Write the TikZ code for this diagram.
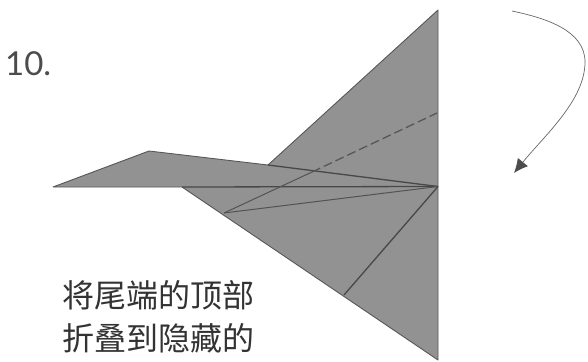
\documentclass[tikz,border=0pt]{standalone}
\usepackage{fontspec}
\newfontfamily\cjk{Noto Sans CJK SC}
\setmainfont{Lato}
\usetikzlibrary{arrows.meta}
\definecolor{paper}{RGB}{146,146,146}
\definecolor{crease}{RGB}{72,72,72}
\tikzset{
  planeface/.style={fill=paper,draw=crease!80!paper,line width=0.9pt,line join=round},
  foldline/.style={draw=crease,line width=1.3pt},
  thinfold/.style={draw=crease!85!paper,line width=1pt},
  hiddenline/.style={draw=crease!80!paper,line width=1.3pt,dash pattern=on 9pt off 4pt},
  numlabel/.style={inner sep=0pt,anchor=base west,text=black!70,font=\fontsize{33}{33}\selectfont},
  cn/.style={inner sep=0pt,anchor=west,font=\cjk\fontsize{32}{32}\selectfont,text=black!80}
}
\begin{document}
\begin{tikzpicture}[x=1pt,y=-1pt]
\useasboundingbox (0,0) rectangle (588,361);
\coordinate (top) at (438,10);
\coordinate (bottom) at (438,360);
\coordinate (mid) at (438,186.5);
\coordinate (notch) at (268,165);
\coordinate (apex) at (149,151);
\coordinate (tip) at (53,187);
\coordinate (join) at (182,187);
\coordinate (low) at (224,213);
\coordinate (cross) at (312,172);
\coordinate (dashend) at (437,113);
\coordinate (foot) at (344,295);
\coordinate (arrowstart) at (512,11);
\coordinate (arrowpeak) at (585,62);
\coordinate (arrowend) at (514,173);
\fill[planeface] (top) -- (bottom) -- (join) -- (tip) -- (apex) -- (notch) -- cycle;
\draw[foldline] (notch) -- (mid);
\draw[foldline] (join) -- (mid);
\draw[thinfold] (low) -- (mid);
\draw[thinfold] (low) -- (cross);
\draw[hiddenline] (cross) -- (dashend);
\draw[foldline] (mid) -- (foot);
\draw[draw=black!60,line width=0.7pt,-{Latex[length=14pt,width=13pt,color=black!70]}]
  (arrowstart) .. controls (545,18) and (585,30) .. (arrowpeak)
  .. controls (585,100) and (545,135) .. (arrowend);
\node[numlabel] (num) at (5,75) {10.};
\node[cn] (l1) at (62,295) {将尾端的顶部};
\node[cn] (l2) at (62,338) {折叠到隐藏的};
\end{tikzpicture}
\end{document}
